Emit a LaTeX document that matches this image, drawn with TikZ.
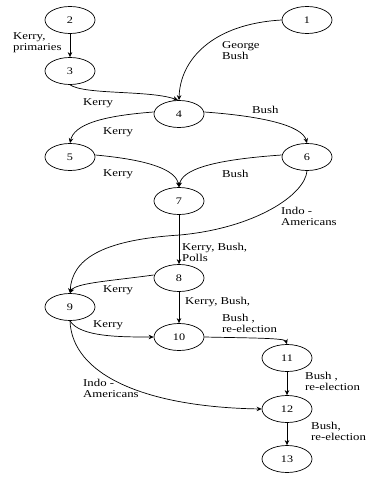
\documentclass[tikz,border=0pt]{standalone}
\usepackage{fontspec}
\setmainfont{Liberation Serif}[FakeStretch=1.22]
\usetikzlibrary{shapes.geometric,arrows.meta}
\begin{document}
\begin{tikzpicture}[x=1pt,y=-1pt,
  vtx/.style={draw,ellipse,minimum width=50pt,minimum height=27pt,inner sep=0pt,line width=0.7pt,font=\fontsize{10}{11}\selectfont},
  lab/.style={anchor=west,align=left,inner sep=0pt,font=\fontsize{10.5}{11}\selectfont},
  edge/.style={line width=0.7pt,-{Stealth[length=5pt,width=4.5pt]}}]
\useasboundingbox (0,0) rectangle (365,478);
\node[vtx] (n1) at (307,20) {1};
\node[vtx] (n2) at (70,20) {2};
\node[vtx] (n3) at (70,71) {3};
\node[vtx] (n4) at (179,114) {4};
\node[vtx] (n5) at (70,157) {5};
\node[vtx] (n6) at (307,157) {6};
\node[vtx] (n7) at (179,201) {7};
\node[vtx] (n8) at (179,278) {8};
\node[vtx] (n9) at (70,307) {9};
\node[vtx] (n10) at (179,337) {10};
\node[vtx] (n11) at (287,358) {11};
\node[vtx] (n12) at (287,409) {12};
\node[vtx] (n13) at (287,459) {13};
% edges
\draw[edge] (n2.south) -- (n3.north);
\draw[edge] (n1.west) .. controls (212,24) and (180,60) .. (n4.north);
\draw[edge] (n3.south) .. controls (85,95) and (150,90) .. ([xshift=-1pt]n4.north);
\draw[edge] ([yshift=2pt]n4.west) .. controls (100,116) and (74,125) .. (n5.north);
\draw[edge] ([yshift=2pt]n4.east) .. controls (260,116) and (302,125) .. (n6.north);
\draw[edge] ([yshift=2pt]n5.east) .. controls (150,160) and (176,170) .. (n7.north);
\draw[edge] ([yshift=2pt]n6.west) .. controls (210,160) and (182,170) .. (n7.north);
\draw[edge] (n6.south) .. controls (305,195) and (255,228) .. (180,235) .. controls (100,240) and (72,260) .. (n9.north);
\draw[edge] (n7.south) -- (n8.north);
\draw[edge] ([yshift=3pt]n8.west) .. controls (110,281) and (75,283) .. (n9.north);
\draw[edge] (n8.south) -- (n10.north);
\draw[edge] (n9.south) .. controls (80,337) and (120,337) .. (n10.west);
\draw[edge] (n10.east) .. controls (250,338) and (285,338) .. (n11.north);
\draw[edge] (n9.south) .. controls (72,375) and (145,407) .. (n12.west);
\draw[edge] (n11.south) -- (n12.north);
\draw[edge] (n12.south) -- (n13.north);
% labels
\node[lab] (l23) at (13,43) {Kerry,\\primaries};
\node[lab] (l14) at (222,51) {George\\Bush};
\node[lab] (l34) at (83,103) {Kerry};
\node[lab] (l45) at (103,132) {Kerry};
\node[lab] (l46) at (252,110) {Bush};
\node[lab] (l57) at (103,174) {Kerry};
\node[lab] (l67) at (222,174) {Bush};
\node[lab] (l69) at (281,216) {Indo -\\Americans};
\node[lab] (l78) at (182,252) {Kerry, Bush,\\Polls};
\node[lab] (l89) at (103,290) {Kerry};
\node[lab] (l810) at (185,302) {Kerry, Bush,};
\node[lab] (l1011) at (222,323) {Bush ,\\re-election};
\node[lab] (l910) at (93,325) {Kerry};
\node[lab] (l912) at (83,388) {Indo -\\Americans};
\node[lab] (l1112) at (305,381) {Bush ,\\re-election};
\node[lab] (l1213) at (311,431) {Bush,\\re-election};
\end{tikzpicture}
\end{document}
